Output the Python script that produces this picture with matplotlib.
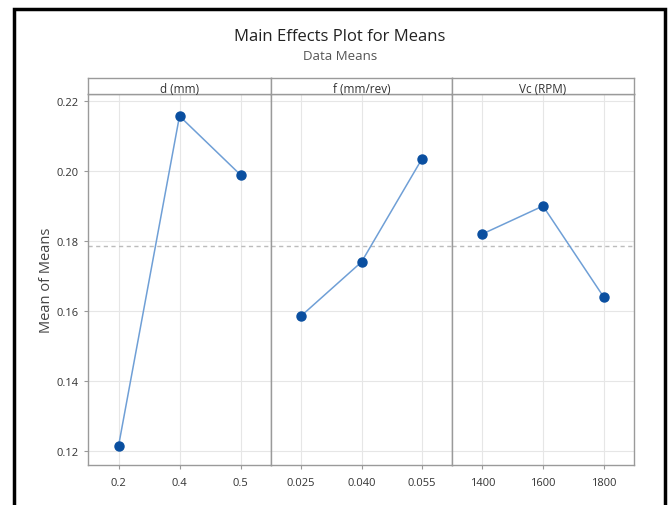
import matplotlib
matplotlib.use("Agg")
import matplotlib.pyplot as plt
from matplotlib.patches import Rectangle

plt.rcParams["font.family"] = ["Open Sans", "DejaVu Sans"]

# main effects: factor -> level labels / means
factors = ["d (mm)", "f (mm/rev)", "Vc (RPM)"]
d_levels = ["0.2", "0.4", "0.5"]
d_means = [0.1214, 0.2157, 0.1989]
f_levels = ["0.025", "0.040", "0.055"]
f_means = [0.1586, 0.1740, 0.2034]
vc_levels = ["1400", "1600", "1800"]
vc_means = [0.1820, 0.1900, 0.1640]
grand_mean = 0.1787
y_ticks = [0.12, 0.14, 0.16, 0.18, 0.20, 0.22]

levels = [d_levels, f_levels, vc_levels]
means = [d_means, f_means, vc_means]

W, H = 670, 506
fig = plt.figure(figsize=(W / 100, H / 100), dpi=100)

# black frame round the picture (screenshot border)
fig.patches.append(Rectangle((13.5 / W, -0.05), (665 - 13.5) / W, 1.05 - 10 / H,
                             transform=fig.transFigure, fill=False,
                             edgecolor="black", linewidth=2.5))

edges = [88, 271, 452, 634]
top_px, bot_px, strip_px = 95, 466, 79
spine_c = "#9a9a9a"

axes = []
for i in range(3):
    x0, x1 = edges[i] / W, edges[i + 1] / W
    ax = fig.add_axes([x0, 1 - bot_px / H, x1 - x0, (bot_px - top_px) / H],
                      sharey=axes[0] if axes else None)
    axes.append(ax)
    xs = range(len(levels[i]))
    ax.axhline(grand_mean, color="#bcbcbc", linestyle=(0, (3, 2.5)), linewidth=1, zorder=1)
    ax.plot(xs, means[i], color="#6f9fd6", linewidth=1.1, zorder=2)
    ax.plot(xs, means[i], "o", color="#0a4fa0", markersize=6.5, zorder=3)
    ax.set_xlim(-0.5, 2.5)
    ax.set_xticks(list(xs))
    ax.set_xticklabels(levels[i])
    ax.grid(True, color="#e6e6e6", linewidth=0.8, zorder=0)
    ax.set_axisbelow(True)
    for s in ax.spines.values():
        s.set_color(spine_c)
        s.set_linewidth(1.0)
    ax.tick_params(axis="x", length=3, labelsize=8, pad=6, colors=spine_c, labelcolor="#333333")
    ax.tick_params(axis="y", length=3, labelsize=8, colors=spine_c, labelcolor="#333333")
    if i > 0:
        ax.tick_params(axis="y", left=False, labelleft=False)

    # strip header
    sax = fig.add_axes([x0, 1 - top_px / H, x1 - x0, (top_px - strip_px) / H])
    sax.set_xticks([])
    sax.set_yticks([])
    for s in sax.spines.values():
        s.set_color(spine_c)
        s.set_linewidth(1.0)
    sax.text(0.5, 0.35, factors[i], ha="center", va="center", fontsize=8.5,
             color="#333333", transform=sax.transAxes)

axes[0].set_ylim(0.116, 0.222)
axes[0].set_yticks(y_ticks)
axes[0].set_yticklabels([f"{t:.2f}" for t in y_ticks])
axes[0].set_ylabel("Mean of Means", fontsize=10.5, color="#444444", labelpad=2)

fig.text(340 / W, 1 - 37 / H, "Main Effects Plot for Means", ha="center", va="center",
         fontsize=12, color="#222222")
fig.text(340 / W, 1 - 57 / H, "Data Means", ha="center", va="center",
         fontsize=9.5, color="#555555")

fig.savefig("out.png", dpi=100)
